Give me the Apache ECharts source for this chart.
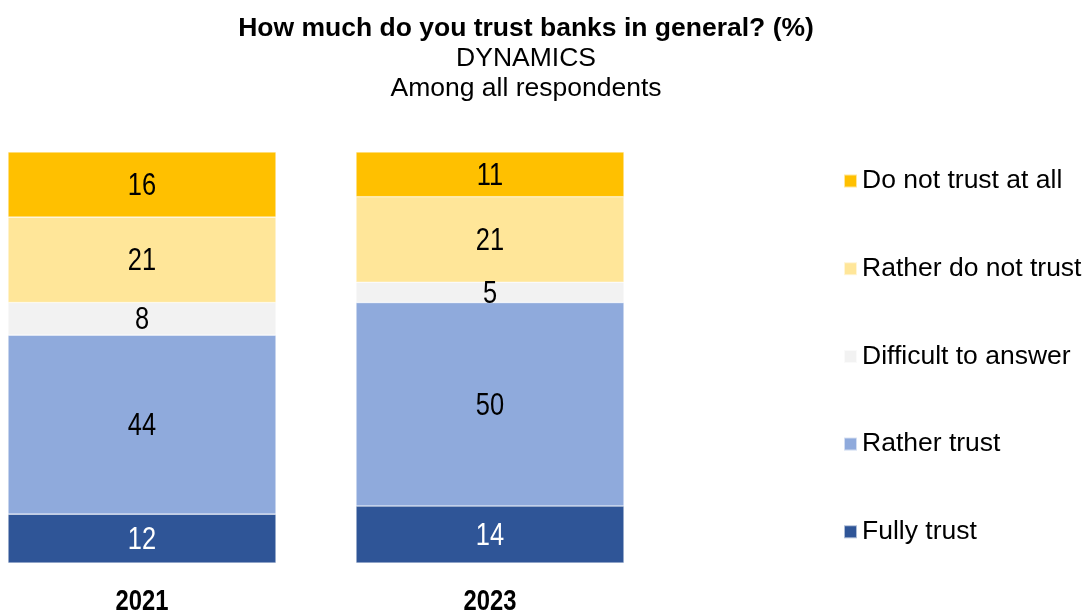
<!DOCTYPE html>
<html>
<head>
<meta charset="utf-8">
<script src="https://cdn.jsdelivr.net/npm/echarts@6/dist/echarts.min.js"></script>
<style>
  html, body { margin: 0; padding: 0; background: #fff; }
  #chart { width: 1084px; height: 615px; }
</style>
</head>
<body>
<div id="chart"></div>
<script>
// Survey waves
const years = ['2021', '2023'];

// Answer shares, % (stacked bottom to top)
const fullyTrust = [12, 14];
const ratherTrust = [44, 50];
const difficult = [8, 5];
const ratherNotTrust = [21, 21];
const notTrustAtAll = [16, 11];

const seriesNames = ['Fully trust', 'Rather trust', 'Difficult to answer', 'Rather do not trust', 'Do not trust at all'];
const seriesValues = [fullyTrust, ratherTrust, difficult, ratherNotTrust, notTrustAtAll];
const seriesColors = ['#2F5597', '#8FAADC', '#F2F2F2', '#FFE699', '#FFC000'];
const labelColors = ['#ffffff', '#000000', '#000000', '#000000', '#000000'];

const titleLines = ['How much do you trust banks in general? (%)', 'DYNAMICS', 'Among all respondents'];

const chart = echarts.init(document.getElementById('chart'), null, { renderer: 'canvas' });

const sans = '"Liberation Sans", Arial, sans-serif';
// Narrow look for numbers: regular sans squeezed horizontally
const NARROW = 0.82;

const barSeries = seriesNames.map((name, i) => ({
  name: name,
  type: 'bar',
  stack: 'total',
  barWidth: 268,
  clip: false,
  data: seriesValues[i],
  itemStyle: { color: seriesColors[i], borderColor: 'rgba(255,255,255,0.6)', borderWidth: 0.6 },
  emphasis: { disabled: true }
}));

// One record per segment: [category index, stack base, value, series index]
const segmentLabels = [];
years.forEach((_, c) => {
  let base = 0;
  seriesValues.forEach((vals, s) => {
    segmentLabels.push([c, base, vals[c], s]);
    base += vals[c];
  });
});

const labelSeries = {
  type: 'custom',
  silent: true,
  clip: false,
  z: 5,
  data: segmentLabels,
  renderItem: function (params, api) {
    const c = api.value(0), base = api.value(1), v = api.value(2), s = api.value(3);
    const p = api.coord([c, base + v / 2]);
    return {
      type: 'text',
      x: p[0],
      y: p[1] + 2,
      scaleX: NARROW,
      style: {
        text: String(v),
        fill: labelColors[s],
        font: '31px ' + sans,
        align: 'center',
        verticalAlign: 'middle'
      }
    };
  }
};

// Year captions under each bar
const yearSeries = {
  type: 'custom',
  silent: true,
  clip: false,
  data: years.map((y, i) => [i, 0]),
  renderItem: function (params, api) {
    const p = api.coord([api.value(0), 0]);
    return {
      type: 'text',
      x: p[0],
      y: p[1] + 39,
      scaleX: NARROW,
      style: {
        text: years[params.dataIndex],
        fill: '#000',
        font: 'bold 29px ' + sans,
        align: 'center',
        verticalAlign: 'middle'
      }
    };
  }
};

chart.setOption({
  animation: false,
  backgroundColor: '#ffffff',
  graphic: titleLines.map((t, i) => ({
    type: 'text',
    x: 526,
    y: 29 + i * 30,
    style: {
      text: t,
      fill: '#000',
      font: (i === 0 ? 'bold ' : '') + '26.5px ' + sans,
      textAlign: 'center',
      textVerticalAlign: 'middle'
    }
  })),
  legend: {
    data: seriesNames.slice().reverse(),
    orient: 'vertical',
    left: 838,
    top: 161,
    icon: 'rect',
    itemWidth: 13,
    itemHeight: 13,
    itemGap: 57.7,
    selectedMode: false,
    textStyle: {
      fontFamily: sans,
      fontSize: 26.5,
      lineHeight: 30,
      color: '#000',
      padding: [0, 0, 0, 0]
    }
  },
  grid: {
    left: 142,
    width: 348,
    top: 152,
    bottom: 52,
    containLabel: false
  },
  xAxis: {
    type: 'category',
    data: years,
    boundaryGap: false,
    axisLine: { show: false },
    axisTick: { show: false },
    axisLabel: { show: false },
    splitLine: { show: false }
  },
  yAxis: {
    type: 'value',
    min: 0,
    max: 101,
    show: false,
    splitLine: { show: false }
  },
  series: barSeries.concat([labelSeries, yearSeries])
});
</script>
</body>
</html>
